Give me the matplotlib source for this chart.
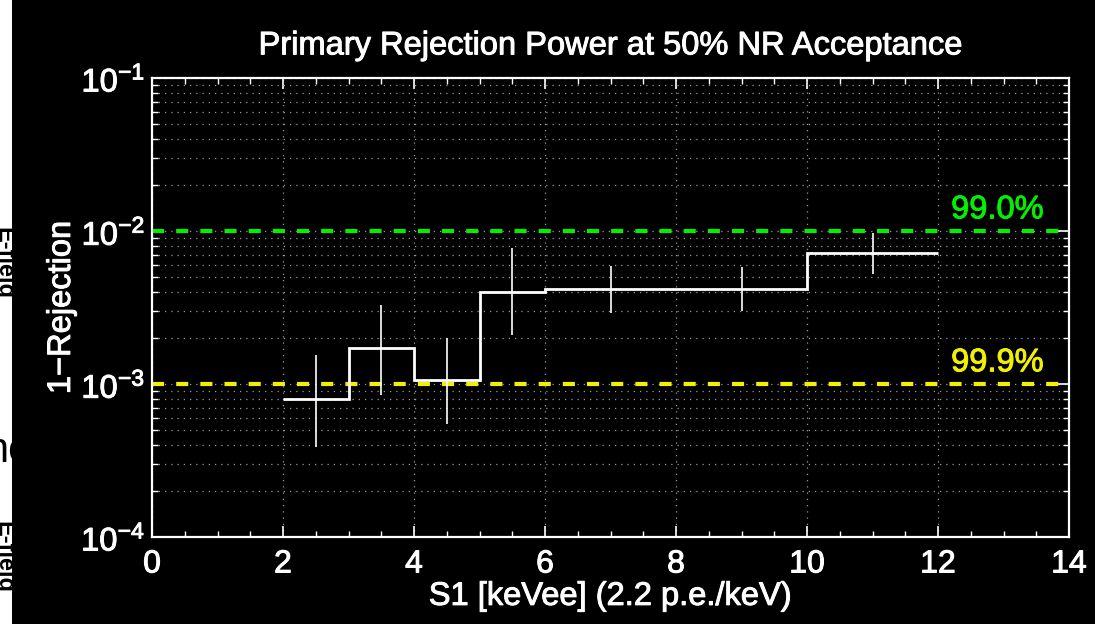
import numpy as np
import matplotlib
matplotlib.use("Agg")
import matplotlib.pyplot as plt
import matplotlib.patheffects as pe
from matplotlib.ticker import LogLocator, MultipleLocator, NullFormatter

plt.rcParams['font.family'] = ['Liberation Sans', 'DejaVu Sans']
plt.rcParams['mathtext.fontset'] = 'custom'
plt.rcParams['mathtext.rm'] = 'Liberation Sans'
plt.rcParams['mathtext.it'] = 'Liberation Sans'

# Bin edges in S1 [keVee] and the leakage fraction (1 - rejection) per bin
bin_edges = [2, 3, 4, 5, 6, 8, 10, 12]
leakage = [8.0e-4, 1.72e-3, 1.06e-3, 4.0e-3, 4.2e-3, 4.2e-3, 7.2e-3]
# Error bar extents at the bin centres
err_x = [2.5, 3.5, 4.5, 5.5, 7, 9, 11]
err_low = [3.9e-4, 8.5e-4, 5.5e-4, 2.1e-3, 2.9e-3, 3.0e-3, 5.2e-3]
err_high = [1.55e-3, 3.3e-3, 2.0e-3, 7.7e-3, 5.9e-3, 5.8e-3, 9.7e-3]
# Reference rejection levels
ref_levels = [1e-2, 1e-3]
ref_labels = ["99.0%", "99.9%"]
ref_colors = ["#00f000", "#f0f000"]

W, H = 1095, 624
fig = plt.figure(figsize=(W / 100, H / 100), dpi=100, facecolor='black')
ax = fig.add_axes([152 / W, 1 - 537 / H, (1069 - 152) / W, (537 - 78) / H])
ax.set_facecolor('black')

ax.set_xlim(0, 14)
ax.set_yscale('log')
ax.set_ylim(1e-4, 1e-1)

# grid
ax.yaxis.set_major_locator(LogLocator(base=10, numticks=10))
ax.yaxis.set_minor_locator(LogLocator(base=10, subs=np.arange(2, 10), numticks=20))
ax.yaxis.set_minor_formatter(NullFormatter())
ax.xaxis.set_major_locator(MultipleLocator(2))
ax.xaxis.set_minor_locator(MultipleLocator(0.5))
ax.grid(True, which='both', axis='y', color='#9a9a9a', linestyle=(0, (1, 4)), linewidth=0.9)
ax.grid(True, which='major', axis='x', color='#9a9a9a', linestyle=(0, (1, 4)), linewidth=0.9)
ax.set_axisbelow(True)

heavy = [pe.withStroke(linewidth=0.7, foreground='white')]

# reference lines
for lvl, lab, col in zip(ref_levels, ref_labels, ref_colors):
    ax.axhline(lvl, color=col, linewidth=3, dashes=(2.9, 2.9), zorder=2)
    ax.text(12.2, lvl * 1.21, lab, color=col, fontsize=23.5, ha='left', va='baseline',
            path_effects=[pe.withStroke(linewidth=0.7, foreground=col)])

# step curve
ax.stairs(leakage, bin_edges, color='white', linewidth=2.0, baseline=None, zorder=3)
# error bars
ax.vlines(err_x, err_low, err_high, color='white', linewidth=1.2, zorder=3)

for s in ax.spines.values():
    s.set_color('white')
    s.set_linewidth(1.6)
ax.tick_params(which='both', direction='in', colors='white', top=True, right=True)
ax.tick_params(which='major', length=8, width=1.2, labelsize=23, pad=9)
ax.tick_params(which='minor', length=4, width=1.0)
ax.tick_params(axis='y', which='major', labelsize=23.5, pad=5)
for lbl in ax.get_xticklabels() + ax.get_yticklabels():
    lbl.set_path_effects(heavy)

ax.set_title("Primary Rejection Power at 50% NR Acceptance", color='white',
             fontsize=23.5, pad=17, path_effects=heavy)
ax.set_xlabel("S1 [keVee] (2.2 p.e./keV)", color='white', fontsize=23.5, labelpad=1,
              path_effects=heavy)
ax.set_ylabel("1\u2212Rejection", color='white', fontsize=23.5, labelpad=3,
              path_effects=heavy)

# strip of the neighbouring page at the left edge
strip = fig.add_axes([0, 0, 12 / W, 1])
strip.set_facecolor('white')
strip.set_xlim(0, 12)
strip.set_ylim(0, H)
strip.set_xticks([])
strip.set_yticks([])
for s in strip.spines.values():
    s.set_visible(False)
strip.text(4, H - 263, "E-field", rotation=-90, fontsize=17, fontweight='bold',
           color='black', ha='center', va='center', clip_on=True)
strip.text(29, H - 451, "nc", fontsize=30, color='black',
           ha='right', va='center', clip_on=True)
strip.text(4, H - 557, "E-field", rotation=-90, fontsize=17, fontweight='bold',
           color='black', ha='center', va='center', clip_on=True)

fig.savefig("out.png", dpi=100, facecolor='black')
